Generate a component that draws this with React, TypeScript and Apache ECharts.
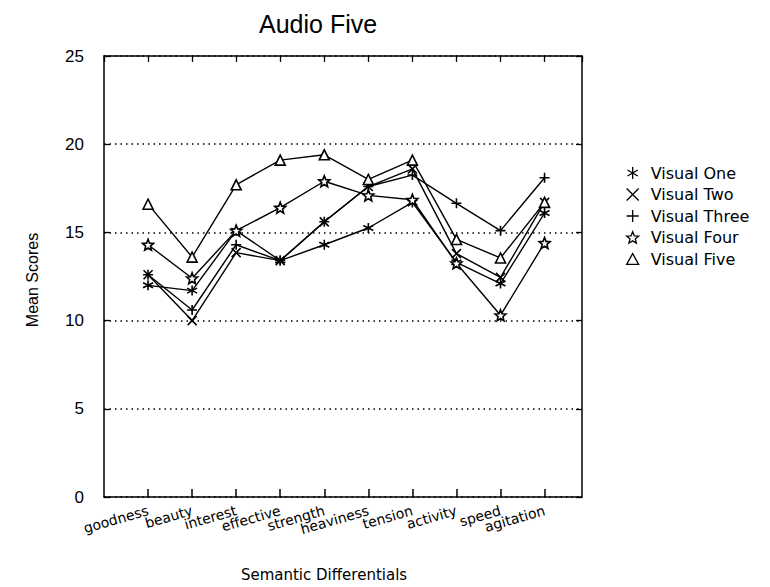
import React, { useEffect, useRef } from "react";
import * as echarts from "echarts";

const categories = ["goodness", "beauty", "interest", "effective", "strength", "heaviness", "tension", "activity", "speed", "agitation"];
const seriesNames = ["Visual One", "Visual Two", "Visual Three", "Visual Four", "Visual Five"];
const visualOne = [12.0, 11.7, 15.1, 13.4, 14.3, 15.25, 16.7, 13.3, 12.1, 16.1];
const visualTwo = [12.6, 10.0, 13.85, 13.4, 15.6, 17.6, 18.6, 13.8, 12.45, 16.7];
const visualThree = [12.6, 10.6, 14.3, 13.4, 15.6, 17.6, 18.25, 16.65, 15.1, 18.1];
const visualFour = [14.3, 12.4, 15.1, 16.4, 17.9, 17.1, 16.85, 13.25, 10.3, 14.4];
const visualFive = [16.6, 13.6, 17.7, 19.1, 19.4, 18.0, 19.1, 14.6, 13.55, 16.7];
const yMin = 0;
const yMax = 25;
const yStep = 5;

const SYM_ASTERISK = "path://M5,0L5,10M0.7,2.5L9.3,7.5M0.7,7.5L9.3,2.5";
const SYM_CROSS = "path://M1,1L9,9M1,9L9,1";
const SYM_PLUS = "path://M5,0L5,10M0,5L10,5";
const SYM_STAR = "path://M5,0L6.29,3.22L9.76,3.45L7.09,5.68L7.94,9.05L5,7.2L2.06,9.05L2.91,5.68L0.24,3.45L3.71,3.22Z";
const SYM_TRI = "path://M5,0L10,9L0,9Z";

const allValues = [visualOne, visualTwo, visualThree, visualFour, visualFive];
const symbols = [SYM_ASTERISK, SYM_CROSS, SYM_PLUS, SYM_STAR, SYM_TRI];
const symbolSizes = [10, 9, 10, 11, 10];

export default function App() {
  const ref = useRef<HTMLDivElement>(null);
  useEffect(() => {
    if (!ref.current) return;
    const chart = echarts.init(ref.current, undefined, { renderer: "svg" });
    const font = "DejaVu Sans";
    const xMax = categories.length + 0.85;
    const axisLineStyle = { color: "#000", width: 1.5 };
    const option: any = {
      animation: false,
      backgroundColor: "#fff",
      title: {
        text: "Audio Five",
        left: 254,
        top: 6,
        textStyle: { fontFamily: "Liberation Sans", fontSize: 25, fontWeight: "normal", color: "#000" },
      },
      legend: {
        orient: "vertical",
        left: 621,
        top: 160,
        itemWidth: 12,
        itemHeight: 12,
        itemGap: 5.5,
        textStyle: { fontFamily: font, fontSize: 16, color: "#000", padding: [0, 0, 0, 7] },
        data: seriesNames.map((n, i) => ({
          name: n,
          icon: symbols[i],
          itemStyle: { color: "#fff", borderColor: "#000", borderWidth: 1.3 },
        })),
      },
      grid: { left: 104, top: 56, width: 478, height: 441 },
      xAxis: [
        {
          type: "value",
          min: 0,
          max: xMax,
          interval: 1,
          position: "bottom",
          axisLine: { show: true, onZero: false, lineStyle: axisLineStyle },
          axisTick: { show: true, inside: true, length: 8, lineStyle: { color: "#000", width: 1.5 } },
          splitLine: { show: false },
          axisLabel: {
            rotate: 16,
            margin: 13,
            fontFamily: font,
            fontSize: 14,
            color: "#000",
            showMaxLabel: false,
            showMinLabel: false,
            formatter: (v: number) => (Number.isInteger(v) && v >= 1 && v <= categories.length ? categories[v - 1] : ""),
          },
        },
        {
          type: "value",
          min: 0,
          max: xMax,
          interval: 1,
          position: "top",
          axisLine: { show: true, onZero: false, lineStyle: axisLineStyle },
          axisTick: { show: true, inside: true, length: 6, lineStyle: { color: "#000", width: 1.3 } },
          splitLine: { show: false },
          axisLabel: { show: false },
        },
      ],
      yAxis: [
        {
          type: "value",
          min: yMin,
          max: yMax,
          interval: yStep,
          position: "left",
          axisLine: { show: true, onZero: false, lineStyle: axisLineStyle },
          axisTick: { show: true, inside: true, length: 6, lineStyle: { color: "#000", width: 1.3 } },
          splitLine: { show: true, lineStyle: { color: "#000", type: [1.5, 4], width: 1.5 } },
          axisLabel: { margin: 20, fontFamily: "Liberation Sans", fontSize: 17, color: "#000" },
        },
        {
          type: "value",
          min: yMin,
          max: yMax,
          interval: yStep,
          position: "right",
          axisLine: { show: true, onZero: false, lineStyle: axisLineStyle },
          axisTick: { show: true, inside: true, length: 6, lineStyle: { color: "#000", width: 1.3 } },
          splitLine: { show: false },
          axisLabel: { show: false },
        },
      ],
      graphic: [
        {
          type: "text",
          x: 32,
          y: 280,
          rotation: Math.PI / 2,
          style: { text: "Mean Scores", fontFamily: "Liberation Sans", fontSize: 16, fill: "#000", textAlign: "center", textVerticalAlign: "middle" },
        },
        {
          type: "text",
          x: 324,
          y: 575,
          style: { text: "Semantic Differentials", fontFamily: font, fontSize: 15, fill: "#000", textAlign: "center", textVerticalAlign: "middle" },
        },
      ],
      series: seriesNames.map((n, i) => ({
        name: n,
        type: "line",
        xAxisIndex: 0,
        yAxisIndex: 0,
        data: allValues[i].map((v, j) => [j + 1, v]),
        symbol: symbols[i],
        symbolSize: symbolSizes[i],
        showAllSymbol: true,
        lineStyle: { color: "#000", width: 1.4 },
        itemStyle: { color: "#fff", borderColor: "#000", borderWidth: 1.6 },
        emphasis: { disabled: true },
      })),
    };
    chart.setOption(option);
    return () => chart.dispose();
  }, []);
  return <div ref={ref} style={{ position: "fixed", left: 0, top: 0, width: 770, height: 587 }} />;
}
